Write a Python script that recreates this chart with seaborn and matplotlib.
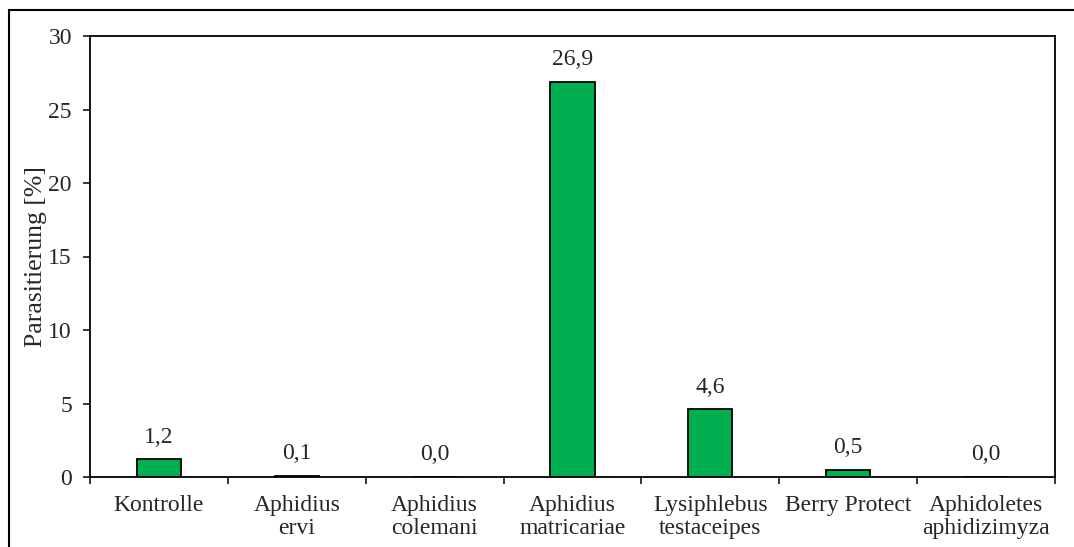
import matplotlib.pyplot as plt
import matplotlib.patches as mpatches
import matplotlib.ticker as mticker
import pandas as pd
import numpy as np
import seaborn as sns

categories = ['Kontrolle', 'Aphidius\nervi', 'Aphidius\ncolemani', 'Aphidius\nmatricariae',
              'Lysiphlebus\ntestaceipes', 'Berry Protect', 'Aphidoletes\naphidizimyza']
values = [1.2, 0.1, 0.0, 26.9, 4.6, 0.5, 0.0]
labels = ['1,2', '0,1', '0,0', '26,9', '4,6', '0,5', '0,0']

df = pd.DataFrame({'Variante': categories, 'Parasitierung': values})

sns.set_style('ticks')
plt.rcParams['font.family'] = ['Liberation Serif', 'DejaVu Serif']
fs = 17

fig = plt.figure(figsize=(10.74, 5.47), dpi=100)
ax = fig.add_axes([90 / 1074, 1 - 477 / 547, (1055 - 90) / 1074, (477 - 36) / 547])

sns.barplot(data=df, x='Variante', y='Parasitierung', color='#00B050',
            edgecolor='black', linewidth=1.3, width=0.32, saturation=1, ax=ax)

for i, (v, lab) in enumerate(zip(values, labels)):
    ax.annotate(lab, (i, v), xytext=(0, 12), textcoords='offset points',
                ha='center', va='baseline', fontsize=fs)

ax.set_ylim(0, 30)
ax.set_xlim(-0.5, len(categories) - 0.5)
ax.yaxis.set_major_locator(mticker.MultipleLocator(5))
ax.set_ylabel('Parasitierung [%]', fontsize=18.5, labelpad=1)
ax.set_xlabel('')

# tick marks between categories, labels centred
ax.set_xticks(np.arange(-0.5, len(categories)), minor=False)
ax.set_xticklabels([])
ax.set_xticks(np.arange(len(categories)), minor=True)
ax.set_xticklabels(categories, minor=True, fontsize=fs, linespacing=1.15)
ax.tick_params(axis='x', which='minor', length=0, pad=13)
ax.tick_params(axis='x', which='major', length=5, width=1.3, direction='out')
ax.tick_params(axis='y', length=5, width=1.3, direction='out', labelsize=fs, pad=8)

for s in ax.spines.values():
    s.set_visible(True)
    s.set_linewidth(1.3)
    s.set_color('black')

# outer frame around the chart
fig.patches.append(mpatches.Rectangle((9 / 1074, -0.05), 1.1, 1.05 - 10 / 547,
                                      transform=fig.transFigure, fill=False,
                                      edgecolor='black', linewidth=1.5))

plt.savefig('out.png', dpi=100)
